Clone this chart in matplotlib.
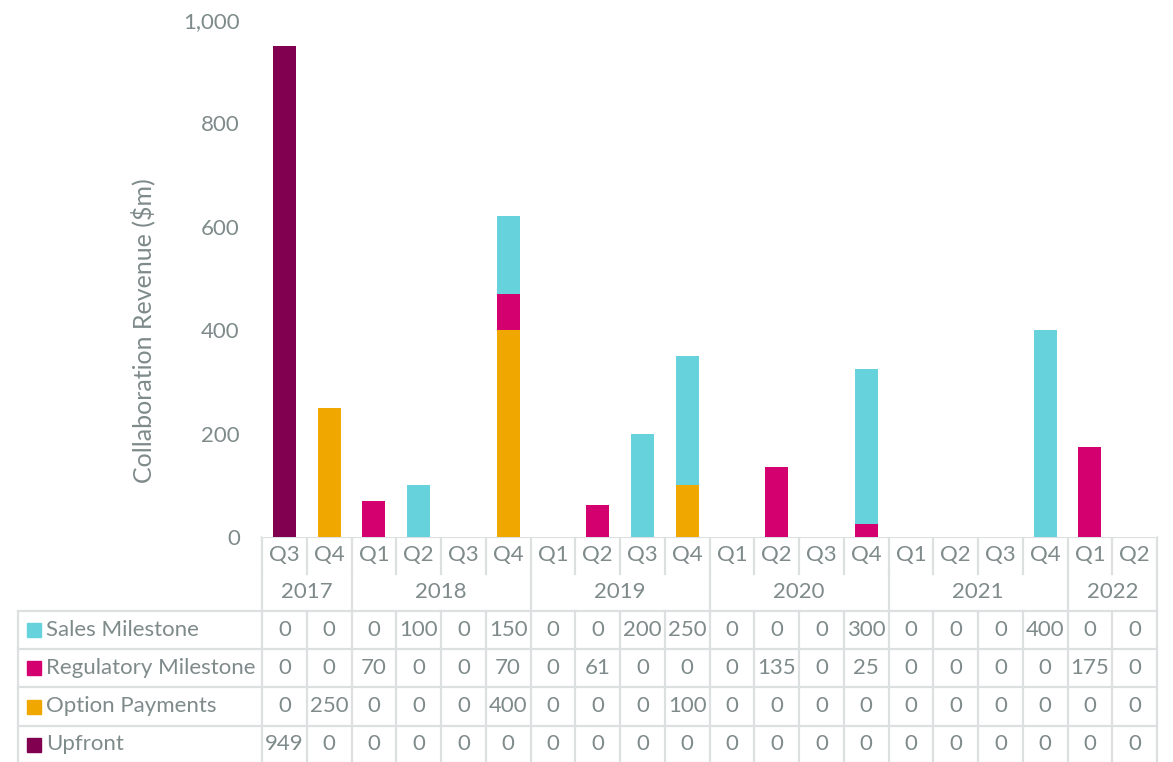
import matplotlib
matplotlib.use("Agg")
import matplotlib.pyplot as plt
from matplotlib.patches import Rectangle
from matplotlib.ticker import FuncFormatter

plt.rcParams['font.family'] = ['Lato', 'DejaVu Sans']

quarters = ['Q3', 'Q4', 'Q1', 'Q2', 'Q3', 'Q4', 'Q1', 'Q2', 'Q3', 'Q4',
            'Q1', 'Q2', 'Q3', 'Q4', 'Q1', 'Q2', 'Q3', 'Q4', 'Q1', 'Q2']
years = ['2017', '2018', '2019', '2020', '2021', '2022']
year_spans = [2, 4, 4, 4, 4, 2]

upfront = [949, 0, 0, 0, 0, 0, 0, 0, 0, 0, 0, 0, 0, 0, 0, 0, 0, 0, 0, 0]
option = [0, 250, 0, 0, 0, 400, 0, 0, 0, 100, 0, 0, 0, 0, 0, 0, 0, 0, 0, 0]
regulatory = [0, 0, 70, 0, 0, 70, 0, 61, 0, 0, 0, 135, 0, 25, 0, 0, 0, 0, 175, 0]
sales = [0, 0, 0, 100, 0, 150, 0, 0, 200, 250, 0, 0, 0, 300, 0, 0, 0, 400, 0, 0]

series = [('Upfront', upfront, '#820050'),
          ('Option Payments', option, '#f0a800'),
          ('Regulatory Milestone', regulatory, '#d4006f'),
          ('Sales Milestone', sales, '#66d2dc')]

W, H = 1173, 762
grey = '#7f8a8b'
line_c = '#dde0e0'
fs = 16

fig = plt.figure(figsize=(W / 100, H / 100), dpi=100)

# plot area in pixels
x0, x1 = 262, 1157
y_top, y_zero = 20, 537
ax = fig.add_axes([x0 / W, 1 - y_zero / H, (x1 - x0) / W, (y_zero - y_top) / H])

n = len(quarters)
xs = list(range(n))
bottom = [0] * n
for name, vals, col in series:
    ax.bar(xs, vals, 0.51, bottom=bottom, color=col, label=name)
    bottom = [b + v for b, v in zip(bottom, vals)]

ax.set_xlim(-0.5, n - 0.5)
ax.set_ylim(0, 1000)
ax.set_yticks(range(0, 1001, 200))
ax.yaxis.set_major_formatter(FuncFormatter(lambda v, p: f'{int(v):,}'))
ax.tick_params(axis='y', length=0, pad=16, labelsize=fs, labelcolor=grey)
ax.set_xticks([])
for s in ax.spines.values():
    s.set_visible(False)

fig.text(143 / W, 1 - 331 / H, 'Collaboration Revenue ($m)', rotation=90,
         ha='center', va='center', fontsize=18, color=grey)

# data table drawn underneath in pixel coordinates
tb = fig.add_axes([0, 0, 1, 1], zorder=-1)
tb.set_xlim(0, W)
tb.set_ylim(H, 0)
tb.axis('off')

cw = (x1 - x0) / n
tab_left = 18
r_q = (537, 574)
r_y = (574, 611)
rows = [611, 649, 687, 726, 763]
lw = 1.6

def cx(i):
    return x0 + (i + 0.5) * cw

# quarter row
tb.plot([x0, x1], [r_q[0], r_q[0]], color=line_c, lw=lw)
for i in range(n + 1):
    tb.plot([x0 + i * cw] * 2, [r_q[0], r_q[1]], color=line_c, lw=lw)
for i, q in enumerate(quarters):
    tb.text(cx(i), (r_q[0] + r_q[1]) / 2, q, ha='center', va='center', fontsize=fs, color=grey)

# year row
k = 0
edges = [0]
for span in year_spans:
    k += span
    edges.append(k)
for e in edges:
    tb.plot([x0 + e * cw] * 2, [r_y[0], r_y[1]], color=line_c, lw=lw)
for yr, a, b in zip(years, edges[:-1], edges[1:]):
    tb.text(x0 + (a + b) / 2 * cw, (r_y[0] + r_y[1]) / 2, yr, ha='center', va='center',
            fontsize=fs, color=grey)

# value rows
for r in rows:
    tb.plot([tab_left, x1], [r, r], color=line_c, lw=lw)
for x in [tab_left] + [x0 + i * cw for i in range(n + 1)]:
    tb.plot([x, x], [rows[0], rows[-1]], color=line_c, lw=lw)

for j, (name, vals, col) in enumerate(reversed(series)):
    yc = (rows[j] + rows[j + 1]) / 2
    tb.add_patch(Rectangle((27, yc - 7), 14, 14, color=col))
    tb.text(46, yc, name, ha='left', va='center', fontsize=fs, color=grey)
    for i, v in enumerate(vals):
        tb.text(cx(i), yc, str(v), ha='center', va='center', fontsize=fs, color=grey)

fig.savefig('out.png', dpi=100)
